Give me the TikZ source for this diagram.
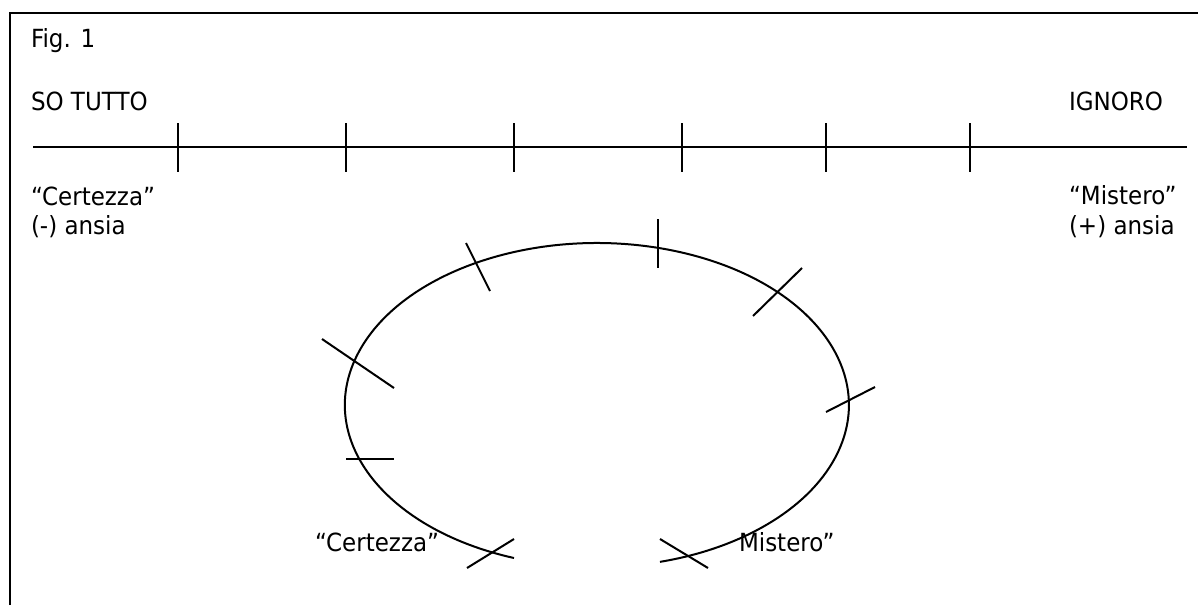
\documentclass[tikz,border=0pt]{standalone}
\usepackage{fontspec}
\setmainfont{DejaVu Sans}[FakeStretch=0.92]
\begin{document}
\begin{tikzpicture}[x=1pt,y=-1pt,line width=2pt,
  txt/.style={anchor=base west,inner sep=0pt,font=\fontsize{25}{30}\selectfont}]
\useasboundingbox (0,0) rectangle (1198,605);
% frame (only top and left edges visible)
\coordinate (fbl) at (10,605);
\coordinate (ftl) at (10,12.5);
\coordinate (ftr) at (1198,12.5);
\draw (fbl) -- (ftl) -- (ftr);
% texts
\node[txt] (fig) at (30,47) {Fig. 1};
\node[txt] (so) at (30,110) {SO TUTTO};
\node[txt] (ign) at (1068,110) {IGNORO};
\node[txt] (cert) at (30,205) {“Certezza”};
\node[txt] (ansm) at (30,234) {(-) ansia};
\node[txt] (mist) at (1068,204) {“Mistero”};
\node[txt] (ansp) at (1068,234) {(+) ansia};
\node[txt] (cert2) at (314,551) {“Certezza”};
\node[txt] (mist2) at (738,551) {Mistero”};
% scale line
\coordinate (la) at (33,147);
\coordinate (lb) at (1187,147);
\draw (la) -- (lb);
\foreach \x in {178,346,514,682,826,970}
  \draw (\x,123) -- (\x,172);
% open ellipse
\coordinate (ea) at (514,558);
\draw (ea) arc[start angle=-109.2,end angle=-435.5,x radius=252pt,y radius=162pt];
% ticks on ellipse
\draw (658,219) -- (658,268);
\draw (466,243) -- (490,291);
\draw (322,339) -- (394,388);
\draw (346,459) -- (394,459);
\draw (753,316) -- (802,268);
\draw (826,412) -- (875,387);
\draw (467,568) -- (514,539);
\draw (660,539) -- (708,568);
\end{tikzpicture}
\end{document}
